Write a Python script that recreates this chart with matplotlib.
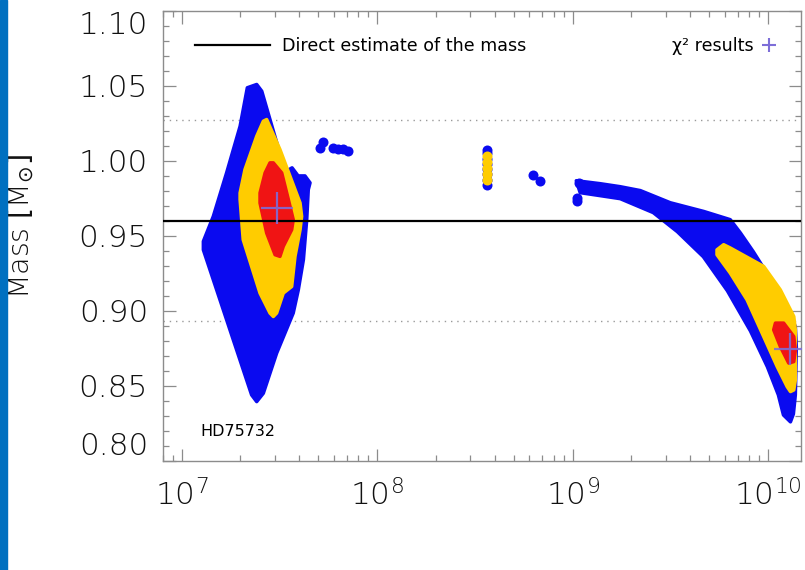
import numpy as np
import matplotlib
matplotlib.use("Agg")
import matplotlib.pyplot as plt
from matplotlib.lines import Line2D
from matplotlib.patches import Rectangle
from matplotlib.ticker import FixedLocator, FixedFormatter, NullFormatter

# ---------------- data (log10 age [yr], mass [Msun]) ----------------
# young solution: outlines of the sampled regions
young_blue_logA = [7.336, 7.384, 7.410, 7.452, 7.530, 7.565, 7.596, 7.631, 7.657, 7.648,
                   7.640, 7.623, 7.597, 7.571, 7.486, 7.418, 7.384, 7.358, 7.111, 7.111,
                   7.162, 7.230, 7.299]
young_blue_M = [1.0488, 1.0510, 1.0465, 1.0276, 0.9927, 0.9954, 0.9900, 0.9900, 0.9854, 0.9808,
                0.9608, 0.9341, 0.9140, 0.8985, 0.8717, 0.8450, 0.8394, 0.8439, 0.9407, 0.9463,
                0.9630, 0.9920, 1.0231]
young_yellow_logA = [7.435, 7.503, 7.606, 7.614, 7.606, 7.580, 7.563, 7.520, 7.486, 7.469,
                     7.452, 7.401, 7.315, 7.299, 7.299, 7.324, 7.384, 7.418]
young_yellow_M = [1.0276, 1.0076, 0.9719, 0.9630, 0.9541, 0.9363, 0.9162, 0.9118, 0.8985, 0.8962,
                  0.8985, 0.9118, 0.9474, 0.9742, 0.9786, 0.9942, 1.0164, 1.0265]
young_red_logA = [7.469, 7.512, 7.546, 7.571, 7.563, 7.520, 7.503, 7.478, 7.435, 7.401,
                  7.401, 7.427, 7.452]
young_red_M = [0.9987, 0.9920, 0.9742, 0.9608, 0.9541, 0.9430, 0.9363, 0.9374, 0.9519, 0.9719,
               0.9786, 0.9920, 0.9987]

# old solution: outlines of the sampled regions
old_blue_logA = [9.019, 9.142, 9.244, 9.347, 9.500, 9.671, 9.807, 9.859, 9.925, 10.012,
                 10.099, 10.140, 10.145, 10.140, 10.130, 10.115, 10.079, 10.053, 9.997, 9.910,
                 9.792, 9.669, 9.536, 9.413, 9.244, 9.142, 9.039]
old_blue_M = [0.9868, 0.9848, 0.9828, 0.9802, 0.9721, 0.9663, 0.9608, 0.9519, 0.9394, 0.9214,
              0.9033, 0.8893, 0.8760, 0.8439, 0.8312, 0.8259, 0.8305, 0.8439, 0.8626, 0.8866,
              0.9134, 0.9361, 0.9528, 0.9655, 0.9748, 0.9768, 0.9788]
old_yellow_logA = [9.739, 9.773, 9.807, 9.978, 10.063, 10.132, 10.140, 10.140, 10.140, 10.132,
                   10.115, 10.098, 10.047, 9.978, 9.893, 9.807, 9.739]
old_yellow_M = [0.9407, 0.9441, 0.9419, 0.9296, 0.9140, 0.8962, 0.8873, 0.8717, 0.8539, 0.8472,
                0.8461, 0.8494, 0.8628, 0.8828, 0.9073, 0.9252, 0.9374]
old_red_logA = [10.038, 10.080, 10.132, 10.140, 10.132, 10.106, 10.063, 10.029]
old_red_M = [0.8918, 0.8918, 0.8828, 0.8739, 0.8661, 0.8651, 0.8762, 0.8873]

# isolated sampled points
dots_blue_logA = [7.708, 7.725, 7.776, 7.802, 7.827, 7.853, 8.800, 8.831, 9.031, 9.022, 9.024]
dots_blue_M = [1.0087, 1.0129, 1.0087, 1.0082, 1.0080, 1.0064, 0.9909, 0.9864, 0.9853, 0.9730, 0.9751]
bar_logA = 8.562
bar_blue_M = [0.9840, 0.9875, 0.9910, 0.9945, 0.9980, 1.0015, 1.0050, 1.0075]
bar_yellow_M = [0.9873, 0.9910, 0.9950, 0.9990, 1.0030]

# chi^2 results
chi2_logA = [7.4864, 10.112]
chi2_M = [0.9686, 0.8744]

# direct estimate of the mass and its uncertainty band
mass_direct = 0.96
mass_band = [0.893, 1.027]

xticks = [1e7, 1e8, 1e9, 1e10]
xtick_labels = [r"$\mathdefault{10^{7}}$", r"$\mathdefault{10^{8}}$",
                r"$\mathdefault{10^{9}}$", r"$\mathdefault{10^{10}}$"]
yticks = [0.80, 0.85, 0.90, 0.95, 1.00, 1.05, 1.10]
ytick_labels = ["0.80", "0.85", "0.90", "0.95", "1.00", "1.05", "1.10"]

# ---------------- styles ----------------
BLUE = "#0a0af0"
YELLOW = "#ffcc00"
RED = "#f01414"
PLUS = "#7d6ed8"
FRAME = "#8c8c8c"
BIGFONT = dict(family=["DejaVu Sans"], weight=200)

plt.rcParams["font.family"] = ["DejaVu Sans"]

fig = plt.figure(figsize=(8.05, 5.70), dpi=100)
fig.patches.append(Rectangle((0, 0), 7 / 805, 1, transform=fig.transFigure,
                             color="#0070c0", zorder=0))
ax = fig.add_axes([162.7 / 805, 1 - 460.7 / 570, 638 / 805, 449.7 / 570])
ax.set_xscale("log")
ax.set_xlim(8e6, 1.47e10)
ax.set_ylim(0.80, 1.10)


def region(logA, M, color, z):
    ax.fill(10 ** np.asarray(logA), M, facecolor=color, edgecolor=color, lw=2.5,
            joinstyle="round", zorder=z)


region(young_blue_logA, young_blue_M, BLUE, 2)
region(young_yellow_logA, young_yellow_M, YELLOW, 3)
region(young_red_logA, young_red_M, RED, 4)
region(old_blue_logA, old_blue_M, BLUE, 2)
region(old_yellow_logA, old_yellow_M, YELLOW, 3)
region(old_red_logA, old_red_M, RED, 4)

ax.scatter(10 ** np.asarray(dots_blue_logA), dots_blue_M, s=52, color=BLUE, lw=0, zorder=2)
ax.scatter([10 ** bar_logA] * len(bar_blue_M), bar_blue_M, s=52, color=BLUE, lw=0, zorder=2)
ax.scatter([10 ** bar_logA] * len(bar_yellow_M), bar_yellow_M, s=52, color=YELLOW, lw=0, zorder=3)

for mb in mass_band:
    ax.axhline(mb, color="#9a9a9a", lw=1.0, ls=(0, (1, 3.5)), zorder=1)
ax.axhline(mass_direct, color="black", lw=1.6, zorder=5)

ax.plot(10 ** np.asarray(chi2_logA), chi2_M, ls="none", marker="+", ms=23, mew=1.6,
        color=PLUS, alpha=0.9, zorder=6)

# ---------------- axes styling ----------------
for sp in ax.spines.values():
    sp.set_color(FRAME)
    sp.set_linewidth(1.0)

ax.xaxis.set_major_locator(FixedLocator(xticks))
ax.xaxis.set_major_formatter(FixedFormatter(xtick_labels))
ax.xaxis.set_minor_locator(FixedLocator([m * d for d in [1e6, 1e7, 1e8, 1e9, 1e10]
                                         for m in range(2, 10)]))
ax.xaxis.set_minor_formatter(NullFormatter())
ax.yaxis.set_major_locator(FixedLocator(yticks))
ax.yaxis.set_major_formatter(FixedFormatter(ytick_labels))
ax.yaxis.set_minor_locator(FixedLocator(np.round(np.arange(0.80, 1.1001, 0.01), 2)))

ax.tick_params(which="both", direction="in", top=True, right=True, color=FRAME, width=0.9)
ax.tick_params(which="major", length=9)
ax.tick_params(which="minor", length=4.5)
ax.tick_params(axis="y", which="major", pad=10.5)
ax.tick_params(axis="x", which="major", pad=13)

for lab in ax.get_yticklabels() + ax.get_xticklabels():
    lab.set_fontfamily(BIGFONT["family"])
    lab.set_fontweight(BIGFONT["weight"])
    lab.set_fontsize(22.5)
    lab.set_color("#111111")
ylabs = ax.get_yticklabels()
ylabs[0].set_verticalalignment("bottom")
ylabs[-1].set_verticalalignment("top")

ax.set_ylabel(r"Mass $[\mathdefault{M}_{\odot}]$", family=BIGFONT["family"],
              weight=BIGFONT["weight"], size=20.5, color="#111111")
ax.yaxis.set_label_coords(-0.199, 0.52)

ax.text(0.059, 0.064, "HD75732", transform=ax.transAxes, fontsize=11.5,
        ha="left", va="center", color="black")

leg1 = ax.legend(handles=[Line2D([], [], color="black", lw=1.6)],
                 labels=["Direct estimate of the mass"], loc="center left",
                 bbox_to_anchor=(0.0506, 0.922), frameon=False, fontsize=12.6,
                 handlelength=4.3, handletextpad=0.7, borderpad=0, borderaxespad=0)
ax.add_artist(leg1)
ax.legend(handles=[Line2D([], [], ls="none", marker="+", ms=10, mew=1.5, color=PLUS)],
          labels=["χ² results"], loc="center right", markerfirst=False,
          bbox_to_anchor=(0.9613, 0.922), frameon=False, fontsize=12.6,
          handlelength=0.8, handletextpad=0.5, borderpad=0, borderaxespad=0)

fig.savefig("out.png", dpi=100)
